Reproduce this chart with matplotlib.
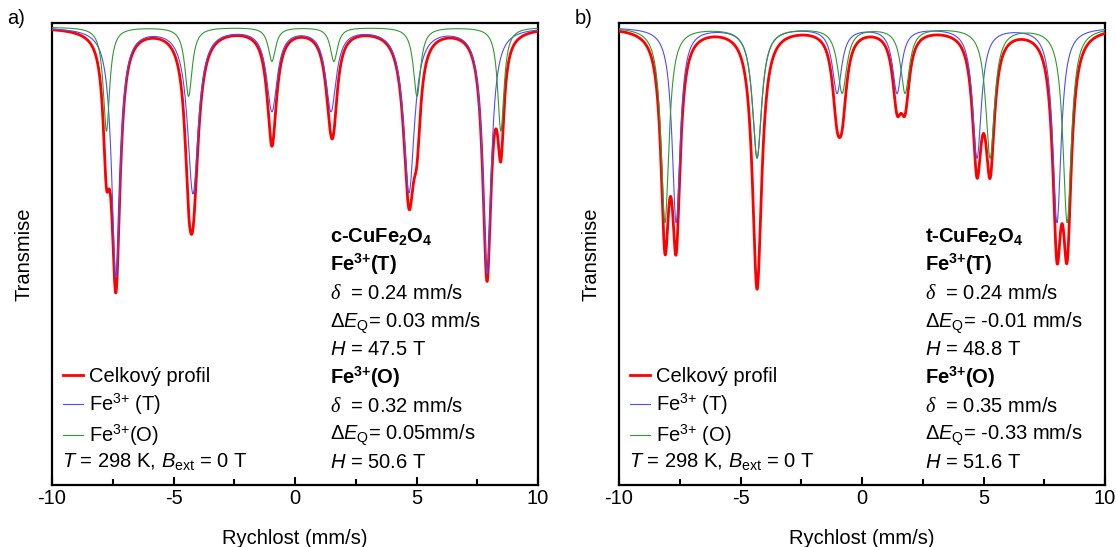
import numpy as np
import matplotlib
matplotlib.use('Agg')
import matplotlib.pyplot as plt

plt.rcParams['font.family'] = ['Liberation Sans', 'DejaVu Sans']
plt.rcParams['mathtext.fontset'] = 'custom'
plt.rcParams['mathtext.rm'] = 'Liberation Sans'
plt.rcParams['mathtext.it'] = 'Liberation Sans:italic'
plt.rcParams['mathtext.bf'] = 'Liberation Sans:bold'
plt.rcParams['mathtext.cal'] = 'Liberation Serif:italic'

# ---- data (line positions mm/s, depths %, half widths mm/s) ----
# a) c-CuFe2O4
a_T_pos = [-7.37, -4.20, -0.95, 1.48, 4.69, 7.90]
a_T_dep = [9.96, 6.60, 3.28, 3.28, 6.56, 9.80]
a_T_hw = [0.21, 0.27, 0.26, 0.26, 0.27, 0.21]
a_O_pos = [-7.76, -4.38, -0.95, 1.60, 5.02, 8.47]
a_O_dep = [4.16, 2.76, 1.36, 1.36, 2.76, 4.16]
a_O_hw = [0.16, 0.18, 0.18, 0.18, 0.18, 0.16]

# b) t-CuFe2O4
b_T_pos = [-7.65, -4.32, -1.03, 1.44, 4.73, 8.02]
b_T_dep = [7.80, 5.20, 2.60, 2.60, 5.20, 7.80]
b_T_hw = [0.20, 0.23, 0.23, 0.22, 0.22, 0.21]
b_O_pos = [-8.11, -4.32, -0.82, 1.77, 5.27, 8.44]
b_O_dep = [7.80, 5.20, 2.60, 2.60, 5.20, 7.80]
b_O_hw = [0.20, 0.23, 0.23, 0.22, 0.22, 0.21]

labels_a = ['Celkový profil', 'Fe$^{3{+}}$ (T)', 'Fe$^{3{+}}$(O)']
labels_b = ['Celkový profil', 'Fe$^{3{+}}$ (T)', 'Fe$^{3{+}}$ (O)']

params_a = ['c-CuFe$_\\mathbf{2}$O$_\\mathbf{4}$', 'Fe$^\\mathbf{3{+}}$(T)',
            '$\\mathcal{\\delta}$  = 0.24 mm/s', '$\\Delta\\mathit{E}_{\\rm Q}$= 0.03 mm/s',
            '$\\mathit{H}$ = 47.5 T', 'Fe$^\\mathbf{3{+}}$(O)',
            '$\\mathcal{\\delta}$  = 0.32 mm/s', '$\\Delta\\mathit{E}_{\\rm Q}$= 0.05mm/s',
            '$\\mathit{H}$ = 50.6 T']
params_b = ['t-CuFe$_\\mathbf{2}$O$_\\mathbf{4}$', 'Fe$^\\mathbf{3{+}}$(T)',
            '$\\mathcal{\\delta}$  = 0.24 mm/s', '$\\Delta\\mathit{E}_{\\rm Q}$= -0.01 mm/s',
            '$\\mathit{H}$ = 48.8 T', 'Fe$^\\mathbf{3{+}}$(O)',
            '$\\mathcal{\\delta}$  = 0.35 mm/s', '$\\Delta\\mathit{E}_{\\rm Q}$= -0.33 mm/s',
            '$\\mathit{H}$ = 51.6 T']
bold_rows = [0, 1, 5]
cond_text = '$\\mathit{T}$ = 298 K, $\\mathit{B}_{\\rm ext}$ = 0 T'

v = np.linspace(-10, 10, 4001)


def sextet(pos, dep, hw):
    s = np.zeros_like(v)
    for p, d, w in zip(pos, dep, hw):
        s += d / (1 + ((v - p) / w) ** 2)
    return s


FS = 14.5
fig = plt.figure(figsize=(11.16, 5.47), dpi=100)
ax_a = fig.add_axes([0.0466, 0.1133, 0.4355, 0.8447])
ax_b = fig.add_axes([0.5547, 0.1133, 0.4355, 0.8447])

panels = [
    (ax_a, 'a)', a_T_pos, a_T_dep, a_T_hw, a_O_pos, a_O_dep, a_O_hw, labels_a, params_a, 0.572),
    (ax_b, 'b)', b_T_pos, b_T_dep, b_T_hw, b_O_pos, b_O_dep, b_O_hw, labels_b, params_b, 0.630),
]

for ax, tag, tp, td, tw, op, od, ow, labs, pars, xt in panels:
    t_site = sextet(tp, td, tw)
    o_site = sextet(op, od, ow)
    ax.plot(v, 1 - (t_site + o_site) / 100, color='#ff0000', lw=2.0, label=labs[0], zorder=3)
    ax.plot(v, 1 - t_site / 100, color='#4d4dff', lw=0.8, label=labs[1], zorder=4)
    ax.plot(v, 1 - o_site / 100, color='#2f9a2f', lw=0.8, label=labs[2], zorder=5)

    ax.set_xlim(-10, 10)
    ax.set_ylim(0.8168, 1.0016)
    ax.set_xticks([-10, -5, 0, 5, 10])
    ax.set_xticklabels(['-10', '-5', '0', '5', '10'])
    ax.set_xticks([-7.5, -2.5, 2.5, 7.5], minor=True)
    ax.set_yticks([])
    ax.tick_params(axis='x', which='major', direction='in', length=6, width=1.5, labelsize=FS, pad=3)
    ax.tick_params(axis='x', which='minor', direction='in', length=4, width=1.5)
    for s in ax.spines.values():
        s.set_linewidth(1.6)
    ax.set_xlabel('Rychlost (mm/s)', fontsize=FS, labelpad=15)
    ax.set_ylabel('Transmise', fontsize=FS, labelpad=13)

    leg = ax.legend(loc='upper left', bbox_to_anchor=(0.022, 0.255), frameon=False,
                    fontsize=FS, handlelength=1.0, handletextpad=0.3, labelspacing=0.25,
                    borderpad=0, borderaxespad=0)
    ax.text(0.021, 0.0368, cond_text, transform=ax.transAxes, fontsize=FS, va='baseline')

    for i, line in enumerate(pars):
        ax.text(xt, 0.5238 - i * 0.0608, line, transform=ax.transAxes, fontsize=FS,
                va='baseline', fontweight='bold' if i in bold_rows else 'normal')

    fig.text(ax.get_position().x0 - 0.040, 0.967, tag, fontsize=FS, va='center')

fig.savefig('out.png', dpi=100)
